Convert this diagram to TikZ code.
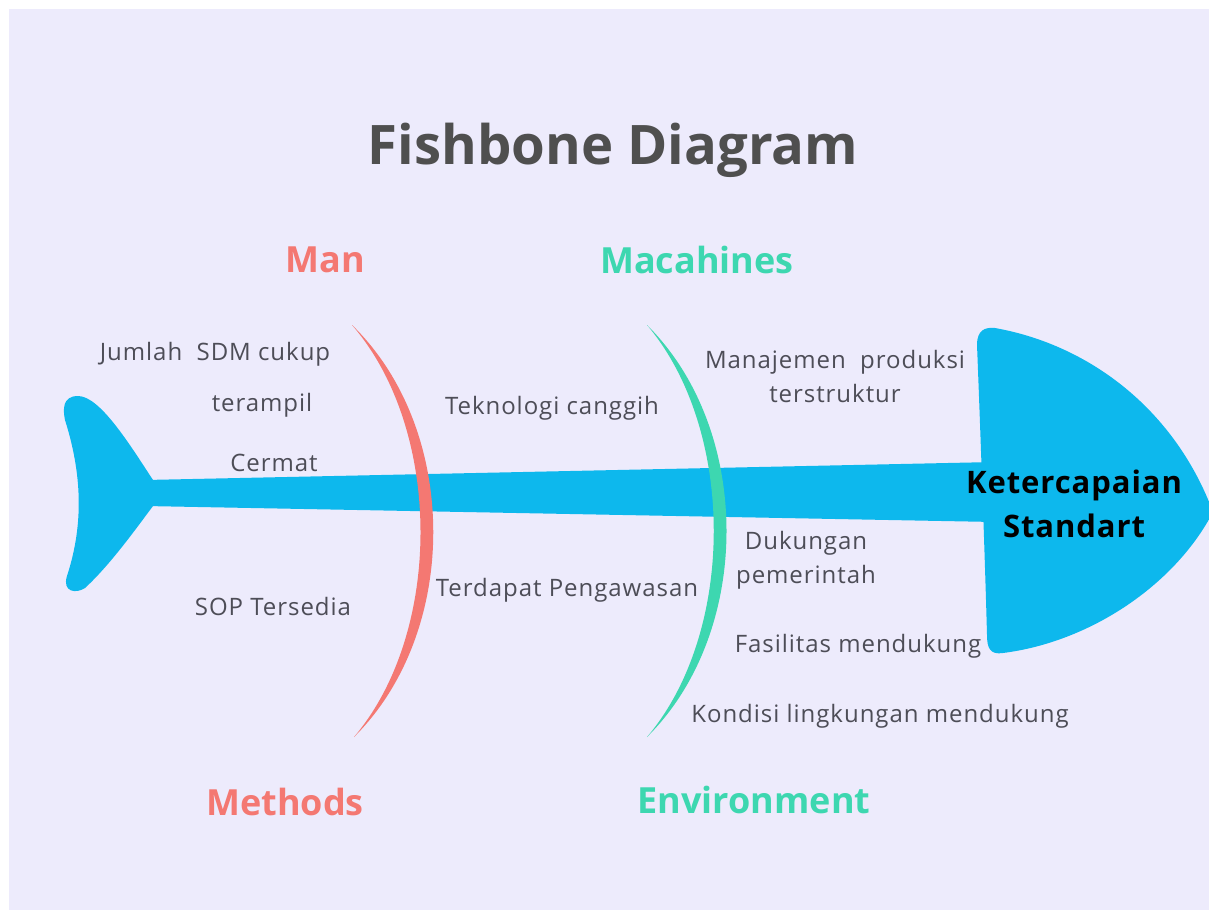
\documentclass[tikz,border=0pt]{standalone}
\usepackage{fontspec}
\setmainfont{Open Sans}
\newfontfamily\bodyfont[LetterSpace=4.0]{Open Sans}
\newfontfamily\effectfont[LetterSpace=3.0]{Open Sans}
\definecolor{bgc}{HTML}{EDEBFC}
\definecolor{fishblue}{HTML}{0DB8ED}
\definecolor{manred}{HTML}{F47872}
\definecolor{envgreen}{HTML}{3DD7B0}
\definecolor{txtgray}{HTML}{4D4D57}
\definecolor{titlegray}{HTML}{4F4F4F}
\begin{document}
\begin{tikzpicture}[x=1pt,y=-1pt,
  body/.style={text=txtgray,inner sep=0pt,align=center,font=\bodyfont\fontsize{24}{34}\selectfont},
  catred/.style={text=manred,inner sep=0pt,font=\fontsize{36}{40}\selectfont\bfseries},
  catgreen/.style={text=envgreen,inner sep=0pt,font=\fontsize{36}{40}\selectfont\bfseries}]
\useasboundingbox (0,0) rectangle (1209,910);
\fill[white] (0,0) rectangle (1209,910);
\fill[bgc] (9,9) rectangle (1209,910);
\begin{scope}
\clip (9,9) rectangle (1209,910);
% spine
\fill[fishblue] (145,480) -- (995,462) -- (995,522) -- (145,506) -- cycle;
% tail
\fill[fishblue] (153,480) .. controls (130,445) and (100,396) .. (78,396)
  .. controls (62,396) and (63,410) .. (65,420)
  .. controls (84,480) and (82,530) .. (67,576)
  .. controls (62,592) and (76,594) .. (85,588)
  .. controls (110,565) and (135,530) .. (153,506) -- cycle;
% head
\fill[fishblue] (995,328) .. controls (1090,345) and (1175,410) .. (1213,512)
  .. controls (1175,585) and (1090,642) .. (1003,653)
  .. controls (990,655) and (987,648) .. (987,635)
  .. controls (985,560) and (980,420) .. (977,345)
  .. controls (977,330) and (985,327) .. (995,328) -- cycle;
\end{scope}
% bones (crescents)
\fill[manred] (352,325) .. controls (460,430) and (460,632) .. (354,737)
  .. controls (443,632) and (443,430) .. (352,325) -- cycle;
\fill[envgreen] (647,325) .. controls (753,430) and (753,632) .. (647,737)
  .. controls (736,632) and (736,430) .. (647,325) -- cycle;
% title
\node[text=titlegray,inner sep=0pt,font=\fontsize{54.5}{60}\selectfont\bfseries] (title) at (613,150) {Fishbone Diagram};
% categories
\node[catred] (man) at (325,260) {Man};
\node[catgreen] (mach) at (697,260) {Macahines};
\node[catred] (meth) at (285,802) {Methods};
\node[catgreen] (env) at (754,800) {Environment};
% causes
\node[body] (c1) at (215,354) {Jumlah\ \ SDM cukup};
\node[body] (c2) at (262,405) {terampil};
\node[body] (c3) at (274,463) {Cermat};
\node[body] (c4) at (273,606) {SOP Tersedia};
\node[body] (c5) at (552,408) {Teknologi canggih};
\node[body] (c6) at (567,590) {Terdapat Pengawasan};
\node[body] (c7) at (835,376) {Manajemen\ \ produksi\\terstruktur};
\node[body] (c8) at (806,560) {Dukungan\\pemerintah};
\node[body] (c9) at (858,646) {Fasilitas mendukung};
\node[body] (c10) at (880,716) {Kondisi lingkungan mendukung};
% effect
\node[text=black,inner sep=0pt,align=center,font=\effectfont\fontsize{31}{44}\selectfont\bfseries] (effect) at (1074,504) {Ketercapaian\\Standart};
\end{tikzpicture}
\end{document}
